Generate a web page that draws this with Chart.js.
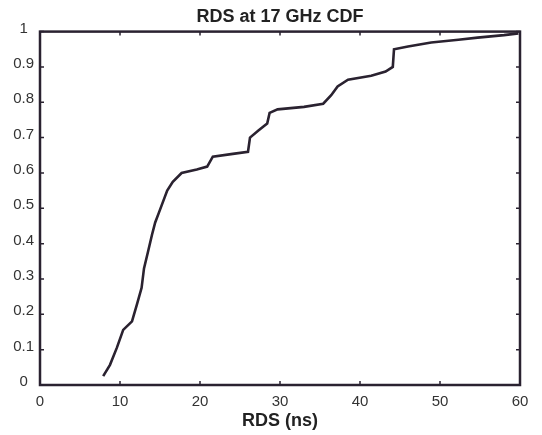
<!DOCTYPE html>
<html>
<head>
<meta charset="utf-8">
<script src="https://cdn.jsdelivr.net/npm/chart.js@4/dist/chart.umd.min.js"></script>
<style>
    html, body { margin: 0; padding: 0; background: #fff; }
    #wrap { width: 542px; height: 435px; }
</style>
</head>
<body>
<div id="wrap"><canvas id="cdfChart"></canvas></div>
<script>
// RDS values (ns) along the curve and matching CDF values
const rdsValues = [7.9, 8.75, 9.6, 10.4, 11.5, 12.1, 12.7, 13.0, 13.5, 14.0, 14.4, 14.9,
    15.9, 16.6, 17.7, 19.6, 20.9, 21.6, 24.1, 26.0, 26.25, 27.3, 28.4, 28.7,
    29.7, 33.0, 35.4, 36.4, 37.2, 38.5, 41.4, 43.2, 44.1, 44.25, 46.0, 48.9,
    52.3, 54.7, 58.0, 59.8];
const cdfValues = [0.025, 0.057, 0.105, 0.156, 0.18, 0.227, 0.275, 0.33, 0.377, 0.425, 0.46, 0.49,
    0.55, 0.575, 0.60, 0.61, 0.618, 0.646, 0.654, 0.66, 0.70, 0.72, 0.74, 0.77,
    0.78, 0.787, 0.796, 0.82, 0.845, 0.864, 0.875, 0.887, 0.90, 0.95, 0.958, 0.969,
    0.977, 0.983, 0.99, 0.995];
const xTicks = [0, 10, 20, 30, 40, 50, 60];
const yTicks = [0, 0.1, 0.2, 0.3, 0.4, 0.5, 0.6, 0.7, 0.8, 0.9, 1];

const inkColor = '#2a2230';
const fontFamily = 'Liberation Sans, Arial, sans-serif';

// Рамка вокруг графика и засечки внутрь (как в MATLAB)
const boxPlugin = {
    id: 'boxPlugin',
    afterDraw(chart) {
        const { ctx, chartArea: a, scales } = chart;
        ctx.save();
        ctx.strokeStyle = inkColor;
        ctx.lineWidth = 2.5;
        ctx.strokeRect(a.left, a.top, a.right - a.left, a.bottom - a.top);
        ctx.lineWidth = 1.5;
        ctx.beginPath();
        xTicks.forEach(v => {
            const px = scales.x.getPixelForValue(v);
            ctx.moveTo(px, a.bottom); ctx.lineTo(px, a.bottom - 4);
            ctx.moveTo(px, a.top); ctx.lineTo(px, a.top + 4);
        });
        yTicks.forEach(v => {
            const py = scales.y.getPixelForValue(v);
            ctx.moveTo(a.left, py); ctx.lineTo(a.left + 4, py);
            ctx.moveTo(a.right, py); ctx.lineTo(a.right - 4, py);
        });
        ctx.stroke();
        ctx.restore();
    }
};

window.onload = function() {
    const ctx = document.getElementById('cdfChart').getContext('2d');
    new Chart(ctx, {
        type: 'scatter',
        data: {
            datasets: [{
                data: rdsValues.map((x, i) => ({ x: x, y: cdfValues[i] })),
                showLine: true,
                borderColor: inkColor,
                borderWidth: 2.6,
                pointRadius: 0,
                tension: 0
            }]
        },
        options: {
            responsive: true,
            maintainAspectRatio: false,
            animation: false,
            layout: { padding: { left: 0, right: 22, top: 0, bottom: 0 } },
            plugins: {
                legend: { display: false },
                tooltip: { enabled: false },
                title: {
                    display: true,
                    fullSize: false,
                    text: 'RDS at 17 GHz CDF',
                    color: '#222',
                    font: { family: fontFamily, size: 18, weight: 'bold' },
                    padding: { top: 6, bottom: 4 }
                }
            },
            scales: {
                x: {
                    type: 'linear',
                    min: 0,
                    max: 60,
                    afterBuildTicks: s => { s.ticks = xTicks.map(v => ({ value: v })); },
                    afterFit: s => { s.height = 50; },
                    grid: { display: false, drawTicks: false },
                    border: { display: false },
                    ticks: {
                        color: '#333',
                        padding: 8,
                        maxRotation: 0,
                        font: { family: fontFamily, size: 15 }
                    },
                    title: {
                        display: true,
                        text: 'RDS (ns)',
                        color: '#222',
                        padding: { top: 0, bottom: 3 },
                        font: { family: fontFamily, size: 18, weight: 'bold' }
                    }
                },
                y: {
                    type: 'linear',
                    min: 0,
                    max: 1,
                    afterBuildTicks: s => { s.ticks = yTicks.map(v => ({ value: v })); },
                    afterFit: s => { s.width = 40; },
                    grid: { display: false, drawTicks: false },
                    border: { display: false },
                    ticks: {
                        color: '#333',
                        padding: 6,
                        crossAlign: 'center',
                        labelOffset: -3,
                        callback: v => String(v),
                        font: { family: fontFamily, size: 15 }
                    }
                }
            }
        },
        plugins: [boxPlugin]
    });
};
</script>
</body>
</html>
